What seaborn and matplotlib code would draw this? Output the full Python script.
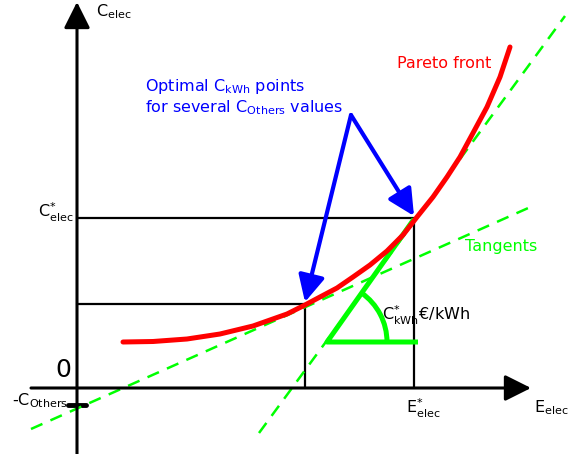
import numpy as np
import seaborn as sns
import matplotlib.pyplot as plt
from matplotlib.patches import Arc

# Pareto front (x to the right, y downward like the image)
front_x = [123, 153, 187, 220, 253, 287, 305, 320, 337, 353, 370, 387, 403, 417,
           433, 447, 460, 473, 487, 500, 510]
front_y = [342, 341.5, 339, 334, 326, 314, 305, 297, 288, 277, 265, 251, 235, 217,
           197, 177, 157, 133, 107, 77, 47]

# two optimal points on the front
opt_x = [305, 414]
opt_y = [304, 218]

# dashed tangents (end points)
tan_low_x = [31, 535]
tan_low_y = [429, 205]
tan_high_x = [259, 565]
tan_high_y = [433, 16]

# slope triangle
tri_x = [414, 327, 418]
tri_y = [219, 342, 342]

# axes origin and ends
x0, y0 = 77, 388
c_others_y = 405
arrow_start = (351, 115)

sns.set_style("white")
plt.rcParams["text.color"] = "black"

fig = plt.figure(figsize=(5.71, 4.54), dpi=100)
ax = fig.add_axes([0, 0, 1, 1])
ax.set_xlim(0, 571)
ax.set_ylim(454, 0)
ax.axis("off")

head = dict(arrowstyle="-|>,head_length=0.8,head_width=0.4", mutation_scale=20,
            shrinkA=0, shrinkB=0)

# axes with arrows
ax.annotate("", xy=(x0, 2), xytext=(x0, 454),
            arrowprops=dict(color="black", lw=2.2, **head))
ax.annotate("", xy=(531, y0), xytext=(31, y0),
            arrowprops=dict(color="black", lw=2.2, **head))
ax.plot([68, 86], [c_others_y, c_others_y], color="black", lw=3.5)

# projections of the optimal points
for px, py in zip(opt_x, opt_y):
    ax.plot([x0, px, px], [py, py, y0], color="black", lw=1.6)

# tangents
ax.plot(tan_low_x, tan_low_y, color="#00ff00", lw=1.8, ls=(0, (5, 3.5)))
ax.plot(tan_high_x, tan_high_y, color="#00ff00", lw=1.8, ls=(0, (5, 3.5)))

# slope triangle and angle arc
ax.plot(tri_x, tri_y, color="#00ff00", lw=3.6, solid_capstyle="butt")
ax.add_patch(Arc((327, 342), 120, 120, theta1=-55, theta2=0,
                 color="#00ff00", lw=3.6))

# Pareto front
sns.lineplot(x=front_x, y=front_y, ax=ax, color="red", lw=3.6, sort=False)
ax.lines[-1].set_solid_joinstyle("round")

# blue arrows to optimal points
for px, py in zip(opt_x, opt_y):
    ax.annotate("", xy=(px, py - 2), xytext=arrow_start,
                arrowprops=dict(color="blue", lw=3, **head))

# texts
fs = 11.5
ax.text(96, 12, r"C$_\mathregular{elec}$", fontsize=fs, va="center", ha="left")
ax.text(534, 408, r"E$_\mathregular{elec}$", fontsize=fs, va="center", ha="left")
ax.text(406, 408, r"E$_\mathregular{elec}^\mathregular{*}$", fontsize=fs, va="center", ha="left")
ax.text(38, 212, r"C$_\mathregular{elec}^\mathregular{*}$", fontsize=fs, va="center", ha="left")
ax.text(71, 370, "0", fontsize=18, va="center", ha="right")
ax.text(12, 401, r"-C$_\mathregular{Others}$", fontsize=fs, va="center", ha="left")
ax.text(382, 315, r"C$_\mathregular{kWh}^\mathregular{*}$€/kWh", fontsize=fs,
        va="center", ha="left")
ax.text(397, 63, "Pareto front", fontsize=fs, color="red", va="center", ha="left")
ax.text(465, 246, "Tangents", fontsize=fs, color="#00ff00", va="center", ha="left")
ax.text(145, 86, r"Optimal C$_\mathregular{kWh}$ points", fontsize=fs, color="blue",
        va="center", ha="left")
ax.text(145, 108, r"for several C$_\mathregular{Others}$ values", fontsize=fs,
        color="blue", va="center", ha="left")

fig.savefig("out.png", dpi=100)
